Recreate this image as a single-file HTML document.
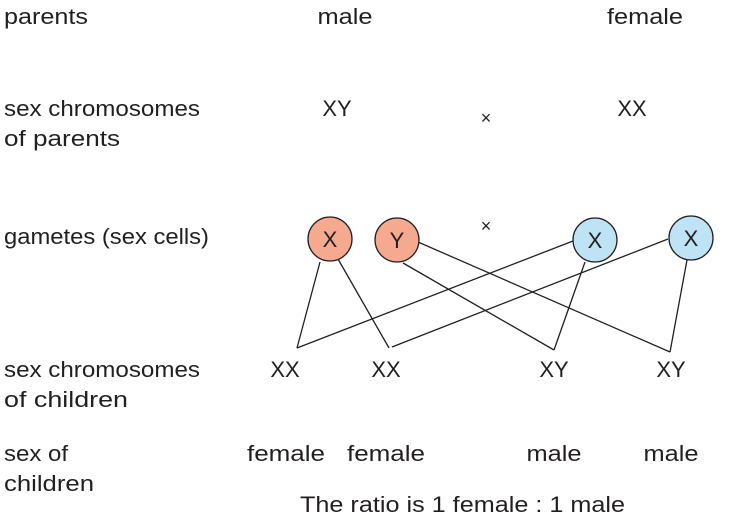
<!DOCTYPE html>
<html><head><meta charset="utf-8"><style>
html,body{margin:0;padding:0;background:#fff;}
svg{display:block;}
text{font-family:"Liberation Sans",sans-serif;font-size:22px;fill:#231f20;}
</style></head><body>
<svg width="733" height="525" viewBox="0 0 733 525">
<g stroke="#231f20" stroke-width="1.3" fill="none">
<line x1="320" y1="262" x2="297" y2="348"/>
<line x1="338" y1="259" x2="389" y2="348"/>
<line x1="418" y1="242" x2="670" y2="352"/>
<line x1="403" y1="263" x2="554" y2="350"/>
<line x1="573" y1="241" x2="297" y2="348"/>
<line x1="585" y1="262" x2="554" y2="350"/>
<line x1="668" y1="239" x2="392" y2="347"/>
<line x1="687" y1="260" x2="670" y2="352"/>
</g>
<g stroke="#231f20" stroke-width="1.3">
<circle cx="330" cy="239" r="22" fill="#f5a98e"/>
<circle cx="397" cy="240" r="22" fill="#f5a98e"/>
<circle cx="595" cy="240" r="22" fill="#bde3f5"/>
<circle cx="691" cy="238" r="22" fill="#bde3f5"/>
</g>
<g text-anchor="middle">
<text x="330" y="247">X</text>
<text x="397" y="248">Y</text>
<text x="595" y="248">X</text>
<text x="691" y="246">X</text>
<text x="345" y="24" textLength="55" lengthAdjust="spacingAndGlyphs">male</text>
<text x="645" y="24" textLength="76" lengthAdjust="spacingAndGlyphs">female</text>
<text x="337" y="116">XY</text>
<text x="486" y="124" style="font-size:18px">×</text>
<text x="632" y="116">XX</text>
<text x="486" y="232" style="font-size:18px">×</text>
<text x="285" y="377">XX</text>
<text x="386" y="377">XX</text>
<text x="554" y="377">XY</text>
<text x="671" y="377">XY</text>
<text x="286" y="461" textLength="78" lengthAdjust="spacingAndGlyphs">female</text>
<text x="386" y="461" textLength="78" lengthAdjust="spacingAndGlyphs">female</text>
<text x="554" y="461" textLength="55" lengthAdjust="spacingAndGlyphs">male</text>
<text x="671" y="461" textLength="55" lengthAdjust="spacingAndGlyphs">male</text>
</g>
<g style="font-size:22px">
<text x="4" y="24" textLength="84" lengthAdjust="spacingAndGlyphs">parents</text>
<text x="4" y="116" textLength="196" lengthAdjust="spacingAndGlyphs">sex chromosomes</text>
<text x="4" y="146" textLength="116" lengthAdjust="spacingAndGlyphs">of parents</text>
<text x="4" y="244" textLength="205" lengthAdjust="spacingAndGlyphs">gametes (sex cells)</text>
<text x="4" y="377" textLength="196" lengthAdjust="spacingAndGlyphs">sex chromosomes</text>
<text x="4" y="407" textLength="124" lengthAdjust="spacingAndGlyphs">of children</text>
<text x="4" y="461" textLength="64" lengthAdjust="spacingAndGlyphs">sex of</text>
<text x="4" y="491" textLength="90" lengthAdjust="spacingAndGlyphs">children</text>
<text x="300" y="512" textLength="325" lengthAdjust="spacingAndGlyphs">The ratio is 1 female : 1 male</text>
</g>
</svg>
</body></html>
